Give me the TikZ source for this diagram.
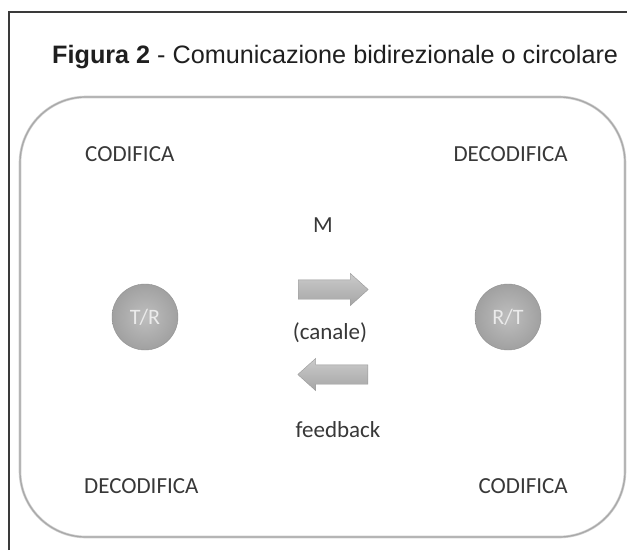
\documentclass[tikz,border=0pt]{standalone}
\usepackage{fontspec}
\setmainfont{Carlito}
\newfontfamily\titlefont{Liberation Sans}
\usetikzlibrary{shapes.arrows}
\definecolor{framec}{HTML}{3A3A3A}
\definecolor{boxc}{HTML}{A8A8A8}
\definecolor{txtc}{HTML}{383838}
\definecolor{circc}{HTML}{A9A9A9}
\definecolor{arrc}{HTML}{B4B4B4}
\tikzset{
  lbl/.style={inner sep=0pt, text=txtc, font=\fontsize{23}{26}\selectfont},
  station/.style={circle, minimum size=66pt, inner sep=0pt, shading=radial, inner color=circc!75!white, outer color=circc!95!black, draw=circc!85!black, line width=0.4pt, text=white!92!black, font=\fontsize{22}{26}\selectfont},
  flow/.style={single arrow, inner sep=0pt, text height=19pt, text depth=0pt, text width=0pt, minimum height=70pt, single arrow head extend=6.5pt, single arrow tip angle=84, top color=arrc!70!white, bottom color=arrc!92!black, draw=arrc!85!black, line width=0.4pt}
}
\begin{document}
\begin{tikzpicture}[x=1pt,y=-1pt]
\useasboundingbox (0,0) rectangle (627,550);
\fill[white] (0,0) rectangle (627,550);
% outer frame
\coordinate (fb) at (9,550);
\coordinate (fc) at (9,12);
\coordinate (fr) at (627,12);
\draw[framec, line width=1.1pt] (fb) -- (fc) -- (fr);
% title
\node[anchor=base west, inner sep=0pt, font=\titlefont\fontsize{25.2}{28}\selectfont, text=black!88] (title) at (52,63) {\textbf{Figura 2} - Comunicazione bidirezionale o circolare};
% rounded box
\draw[boxc!55!white, line width=2.6pt, rounded corners=66pt] (20,97) rectangle (625,537);
\draw[boxc, line width=1.2pt, rounded corners=66pt] (20,97) rectangle (625,537);
% labels
\node[lbl, anchor=base west] (codl) at (85,161) {CODIFICA};
\node[lbl, anchor=base east] (decr) at (568,161) {DECODIFICA};
\node[lbl, anchor=base west] (decl) at (84,493) {DECODIFICA};
\node[lbl, anchor=base east] (codr) at (568,493) {CODIFICA};
\node[lbl, anchor=base] (m) at (323,232) {M};
\node[lbl, anchor=base] (canale) at (330,339) {(canale)};
\node[lbl, anchor=base] (fbk) at (338,437) {feedback};
% stations
\node[station] (tr) at (145,317) {T/R};
\node[station] (rt) at (508,317) {R/T};
% arrows
\node[flow, anchor=tail] (a1) at (298,289.5) {};
\node[flow, shape border rotate=180, anchor=tail] (a2) at (368,374.5) {};
\end{tikzpicture}
\end{document}
